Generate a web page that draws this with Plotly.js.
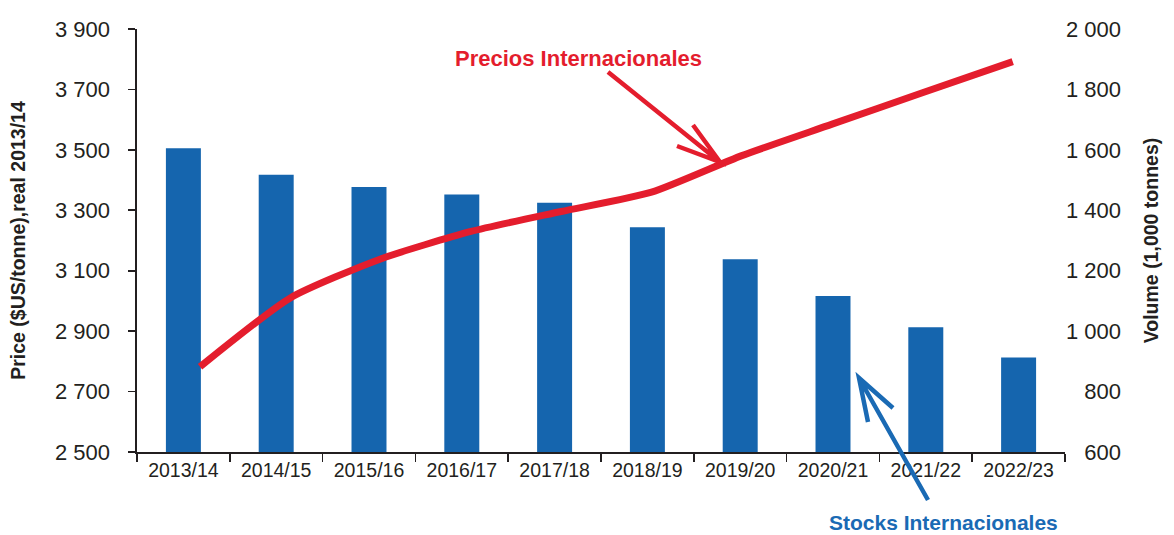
<!DOCTYPE html>
<html>
<head>
<meta charset="utf-8">
<script src="https://cdn.plot.ly/plotly-3.0.1.min.js"></script>
<style>html,body{margin:0;padding:0;background:#fff;}#chart{width:1174px;height:535px;}</style>
</head>
<body>
<div id="chart"></div>
<script>
// ---- data ----
const seasons = ["2013/14","2014/15","2015/16","2016/17","2017/18","2018/19","2019/20","2020/21","2021/22","2022/23"];
const stocks = [1605, 1518, 1477, 1452, 1425, 1344, 1238, 1116, 1013, 913];   // Volume (1,000 tonnes), right axis
const prices = [2782, 3010, 3139, 3230, 3296, 3360, 3481, 3585, 3689, 3792];  // Price ($US/tonne) real 2013/14, left axis
const priceTicks = [2500, 2700, 2900, 3100, 3300, 3500, 3700, 3900];
const priceTickText = ["2 500","2 700","2 900","3 100","3 300","3 500","3 700","3 900"];
const volumeTicks = [600, 800, 1000, 1200, 1400, 1600, 1800, 2000];
const volumeTickText = ["\u2007\u2008600","\u2007\u2008800","1 000","1 200","1 400","1 600","1 800","2 000"];

// ---- layout helpers ----
const M = {l: 137, r: 109, t: 29, b: 83};
const W = 1174, H = 535;
const PW = W - M.l - M.r, PH = H - M.t - M.b;
const px = x => (x - M.l) / PW;
const py = y => (H - M.b - y) / PH;

const FONT = "Liberation Sans, Arial, Helvetica, sans-serif";
const AXC = "#231f20";
const BLUE = "#1565ae";
const RED = "#e41d2d";

const traces = [
  {
    type: "bar", x: seasons, y: stocks, xaxis: "x", yaxis: "y",
    marker: {color: BLUE, line: {width: 0}}, name: "Stocks Internacionales",
    hoverinfo: "x+y"
  },
  {
    type: "scatter", mode: "lines", x: seasons, y: prices, xaxis: "x2", yaxis: "y2",
    line: {color: RED, width: 7, shape: "spline", smoothing: 0.6},
    name: "Precios Internacionales", hoverinfo: "x+y"
  }
];

function arrowPath(tail, tip, w1, w2) {
  return `M ${px(tail[0])},${py(tail[1])} L ${px(tip[0])},${py(tip[1])} ` +
         `M ${px(w1[0])},${py(w1[1])} L ${px(tip[0])},${py(tip[1])} L ${px(w2[0])},${py(w2[1])}`;
}

const layout = {
  width: W, height: H,
  margin: M,
  paper_bgcolor: "#ffffff", plot_bgcolor: "#ffffff",
  showlegend: false,
  font: {family: FONT, color: AXC},
  bargap: 0.623,
  xaxis: {
    type: "category", categoryarray: seasons,
    showline: true, linecolor: AXC, linewidth: 1.6,
    ticks: "outside", tickson: "boundaries", ticklen: 8, tickwidth: 1.6, tickcolor: AXC,
    tickfont: {size: 19.5, color: AXC},
    showgrid: false, zeroline: false, fixedrange: true
  },
  xaxis2: {
    type: "category", overlaying: "x", visible: false,
    range: [-0.698, 9.579], fixedrange: true
  },
  yaxis: {
    side: "right", range: [600, 2000],
    tickvals: volumeTicks, ticktext: volumeTickText,
    showline: false, ticks: "", showgrid: false, zeroline: false,
    tickfont: {size: 22, color: AXC},
    title: {text: "<b>Volume (1,000 tonnes)</b>", font: {size: 19.5, color: AXC}, standoff: 24},
    fixedrange: true
  },
  yaxis2: {
    side: "left", overlaying: "y", anchor: "x", range: [2500, 3900],
    tickvals: priceTicks, ticktext: priceTickText,
    showline: true, linecolor: AXC, linewidth: 1.6,
    ticks: "outside", ticklen: 7, tickwidth: 1.6, tickcolor: AXC,
    ticklabelstandoff: 14,
    showgrid: false, zeroline: false,
    tickfont: {size: 22, color: AXC},
    title: {text: "<b>Price ($US/tonne),real 2013/14</b>", font: {size: 19.5, color: AXC}, standoff: 24},
    fixedrange: true
  },
  annotations: [
    {
      xref: "paper", yref: "paper", x: px(578), y: py(58), xanchor: "center", yanchor: "middle",
      text: "<b>Precios Internacionales</b>", showarrow: false,
      font: {size: 22, color: RED, family: FONT}
    },
    {
      xref: "paper", yref: "paper", x: px(943), y: py(522), xanchor: "center", yanchor: "middle",
      text: "<b>Stocks Internacionales</b>", showarrow: false,
      font: {size: 21, color: "#1a6ab4", family: FONT}
    }
  ],
  shapes: [
    {
      type: "path", xref: "paper", yref: "paper",
      path: arrowPath([608, 72], [720, 162], [693, 125], [677, 146]),
      line: {color: RED, width: 4.5}
    },
    {
      type: "path", xref: "paper", yref: "paper",
      path: arrowPath([928, 500], [859, 378], [868, 422], [893, 408]),
      line: {color: "#1a6ab4", width: 4.5}
    }
  ]
};

Plotly.newPlot("chart", traces, layout, {displayModeBar: false, staticPlot: true});
</script>
</body>
</html>
